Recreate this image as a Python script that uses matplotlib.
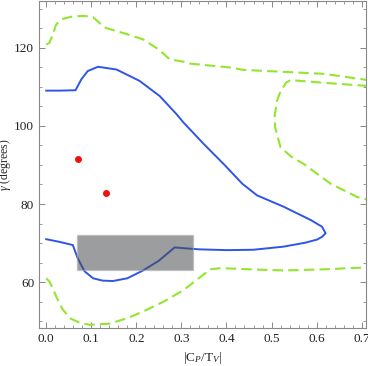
import matplotlib
matplotlib.use("Agg")
import matplotlib.pyplot as plt
from matplotlib.patches import Rectangle
from matplotlib.ticker import MultipleLocator, FormatStrFormatter

# blue allowed-region contour: lower branch from x=0 to the tip, then back along the upper branch
blue_x = [0.0, 0.03, 0.059, 0.070, 0.085, 0.104, 0.125, 0.148, 0.18, 0.215, 0.25,
          0.285, 0.305, 0.34, 0.401, 0.46, 0.527, 0.575, 0.601, 0.612, 0.62, 0.612,
          0.587, 0.527, 0.468, 0.435, 0.394, 0.35, 0.305, 0.289, 0.252, 0.207,
          0.156, 0.115, 0.092, 0.078, 0.065, 0.03, 0.0]
blue_y = [71.0, 70.3, 69.5, 66.1, 62.8, 61.0, 60.4, 60.3, 61.0, 63.0, 65.5, 68.9,
          68.7, 68.4, 68.2, 68.3, 69.1, 70.1, 70.9, 71.6, 72.5, 74.2, 75.9, 79.3,
          82.2, 85.2, 90.2, 95.3, 100.8, 103.0, 107.6, 111.5, 114.4, 115.1, 114.0,
          111.9, 109.1, 109.0, 109.0]

# green dashed contours
g_top_x = [0.0, 0.007, 0.015, 0.022, 0.035, 0.059, 0.085, 0.104, 0.118, 0.133,
           0.175, 0.215, 0.25, 0.274, 0.305, 0.32, 0.409, 0.438, 0.527, 0.616, 0.714]
g_top_y = [120.8, 121.2, 123.5, 125.9, 127.3, 128.0, 128.1, 127.8, 126.3, 125.0,
           123.6, 122.1, 119.5, 117.0, 116.4, 115.9, 114.9, 114.3, 113.8, 113.3, 111.7]

g_loop_x = [0.714, 0.616, 0.542, 0.532, 0.520, 0.512, 0.507, 0.508, 0.520, 0.545,
            0.572, 0.631, 0.69, 0.714]
g_loop_y = [110.2, 111.0, 111.7, 111.0, 108.8, 106.4, 102.5, 99.6, 94.5, 92.0,
            90.2, 85.2, 81.8, 81.1]

g_bot_x = [0.0, 0.007, 0.015, 0.022, 0.035, 0.052, 0.075, 0.096, 0.141, 0.18,
           0.215, 0.26, 0.305, 0.364, 0.387, 0.45, 0.527, 0.62, 0.714]
g_bot_y = [61.0, 60.2, 58.3, 56.4, 53.3, 50.8, 49.6, 49.1, 49.4, 50.8,
           52.5, 55.0, 58.0, 63.3, 63.6, 63.3, 63.0, 63.3, 63.8]

# red points
pts_x = [0.070, 0.133]
pts_y = [91.5, 82.9]

# gray box
box_x = (0.068, 0.326)
box_y = (63.0, 72.05)

BLUE = "#2f55e6"
GREEN = "#92e62e"

plt.rcParams["font.family"] = ["Liberation Serif", "DejaVu Serif"]
plt.rcParams["mathtext.fontset"] = "custom"
plt.rcParams["mathtext.rm"] = "Liberation Serif"
plt.rcParams["mathtext.it"] = "Liberation Serif:italic"

fig = plt.figure(figsize=(3.68, 3.66), dpi=100)
ax = fig.add_axes([0.106, 0.104, 0.889, 0.893])

ax.plot(blue_x, blue_y, color=BLUE, lw=1.4, zorder=2)
for xs, ys in ((g_top_x, g_top_y), (g_loop_x, g_loop_y), (g_bot_x, g_bot_y)):
    ax.plot(xs, ys, color=GREEN, lw=1.5, dashes=(5, 2.5), zorder=2)
ax.scatter(pts_x, pts_y, s=16, color="#f01010", zorder=4)
ax.add_patch(Rectangle((box_x[0], box_y[0]), box_x[1] - box_x[0], box_y[1] - box_y[0],
                       facecolor="#4a4d50", edgecolor="#b0b0b0", lw=1.0, alpha=0.55,
                       zorder=3))

ax.set_xlim(-0.016, 0.71)
ax.set_ylim(48.3, 131.9)
ax.xaxis.set_major_locator(MultipleLocator(0.1))
ax.xaxis.set_minor_locator(MultipleLocator(0.02))
ax.yaxis.set_major_locator(MultipleLocator(20))
ax.yaxis.set_minor_locator(MultipleLocator(5))
ax.xaxis.set_major_formatter(FormatStrFormatter("%.1f"))
ax.tick_params(which="both", direction="in", top=True, right=True, color="#888888",
               labelsize=9.5, labelcolor="#222222")
ax.tick_params(which="major", length=4.5, width=0.7)
ax.tick_params(which="minor", length=2.5, width=0.6)
for sp in ax.spines.values():
    sp.set_color("#888888")
    sp.set_linewidth(0.8)

ax.set_xlabel(r"|C$_P$/T$_V$|", fontsize=9.5, color="#222222")
ax.set_ylabel(r"$\gamma$ (degrees)", fontsize=8.5, color="#222222", labelpad=1)

fig.savefig("out.png", dpi=100)
